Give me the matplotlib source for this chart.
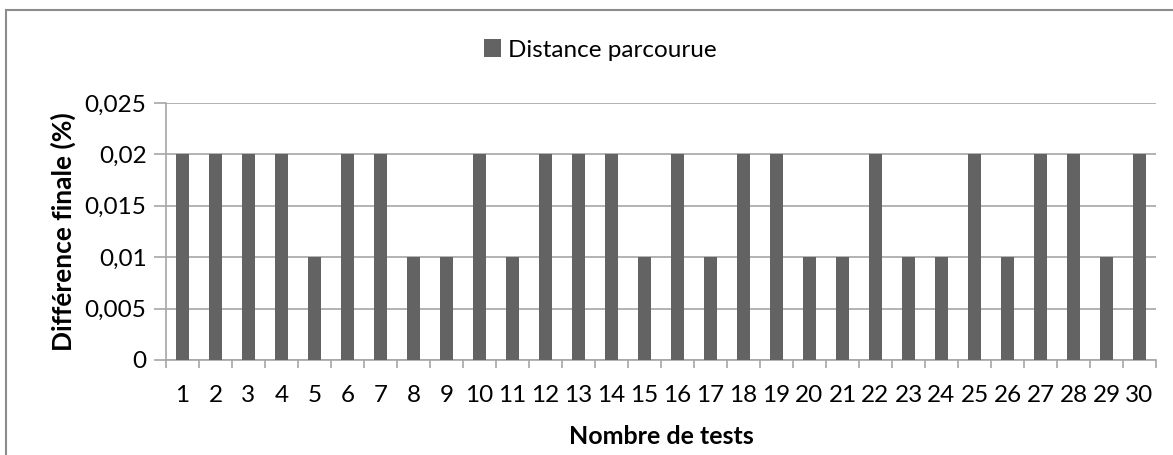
import numpy as np
import matplotlib
matplotlib.use("Agg")
import matplotlib.pyplot as plt
from matplotlib.patches import Rectangle

plt.rcParams["font.family"] = ["Lato", "DejaVu Sans"]

# Data
tests = list(range(1, 31))
distance = [0.02, 0.02, 0.02, 0.02, 0.01, 0.02, 0.02, 0.01, 0.01, 0.02,
            0.01, 0.02, 0.02, 0.02, 0.01, 0.02, 0.01, 0.02, 0.02, 0.01,
            0.01, 0.02, 0.01, 0.01, 0.02, 0.01, 0.02, 0.02, 0.01, 0.02]
y_ticks = [0, 0.005, 0.01, 0.015, 0.02, 0.025]
y_labels = ["0", "0,005", "0,01", "0,015", "0,02", "0,025"]

W, H = 1173, 455
fig = plt.figure(figsize=(W / 100, H / 100), dpi=100)
ax = fig.add_axes([166 / W, 1 - 360 / H, (1156 - 166) / W, (360 - 103) / H])

bar_col = "#636363"
grid_col = "#a6a6a6"

ax.bar(tests, distance, width=0.4, color=bar_col, label="Distance parcourue", zorder=3)

ax.set_xlim(0.5, 30.5)
ax.set_ylim(0, 0.025)
ax.set_yticks(y_ticks)
ax.set_yticklabels(y_labels, fontsize=17.5)
ax.yaxis.grid(True, color=grid_col, linewidth=1.2, zorder=0)

# category labels, ticks between categories
ax.set_xticks(tests)
ax.set_xticklabels([str(t) for t in tests], fontsize=17.5)
ax.tick_params(axis="x", length=0, pad=18)
ax.set_xticks(np.arange(0.5, 31, 1), minor=True)
ax.tick_params(axis="x", which="minor", length=6, width=1.2, color=grid_col, direction="out")
ax.tick_params(axis="y", length=9, width=1.2, color=grid_col, direction="out", pad=5)

for s in ["top", "right"]:
    ax.spines[s].set_visible(False)
for s in ["left", "bottom"]:
    ax.spines[s].set_color(grid_col)
    ax.spines[s].set_linewidth(1.2)

ax.set_xlabel("Nombre de tests", fontsize=18, fontweight="bold", labelpad=14)
ax.set_ylabel("Différence finale (%)", fontsize=19, fontweight="bold", labelpad=6)

leg = fig.legend(loc="center", bbox_to_anchor=(600 / W, 1 - 50 / H), frameon=False,
                 fontsize=17.5, handlelength=0.7, handleheight=0.7, handletextpad=0.3)

# outer chart border
fig.patches.append(Rectangle((6 / W, -0.1), 1.2, 1 - 10 / H + 0.1, transform=fig.transFigure,
                             fill=False, edgecolor="#8c8c8c", linewidth=1.5))

fig.savefig("out.png", dpi=100)
